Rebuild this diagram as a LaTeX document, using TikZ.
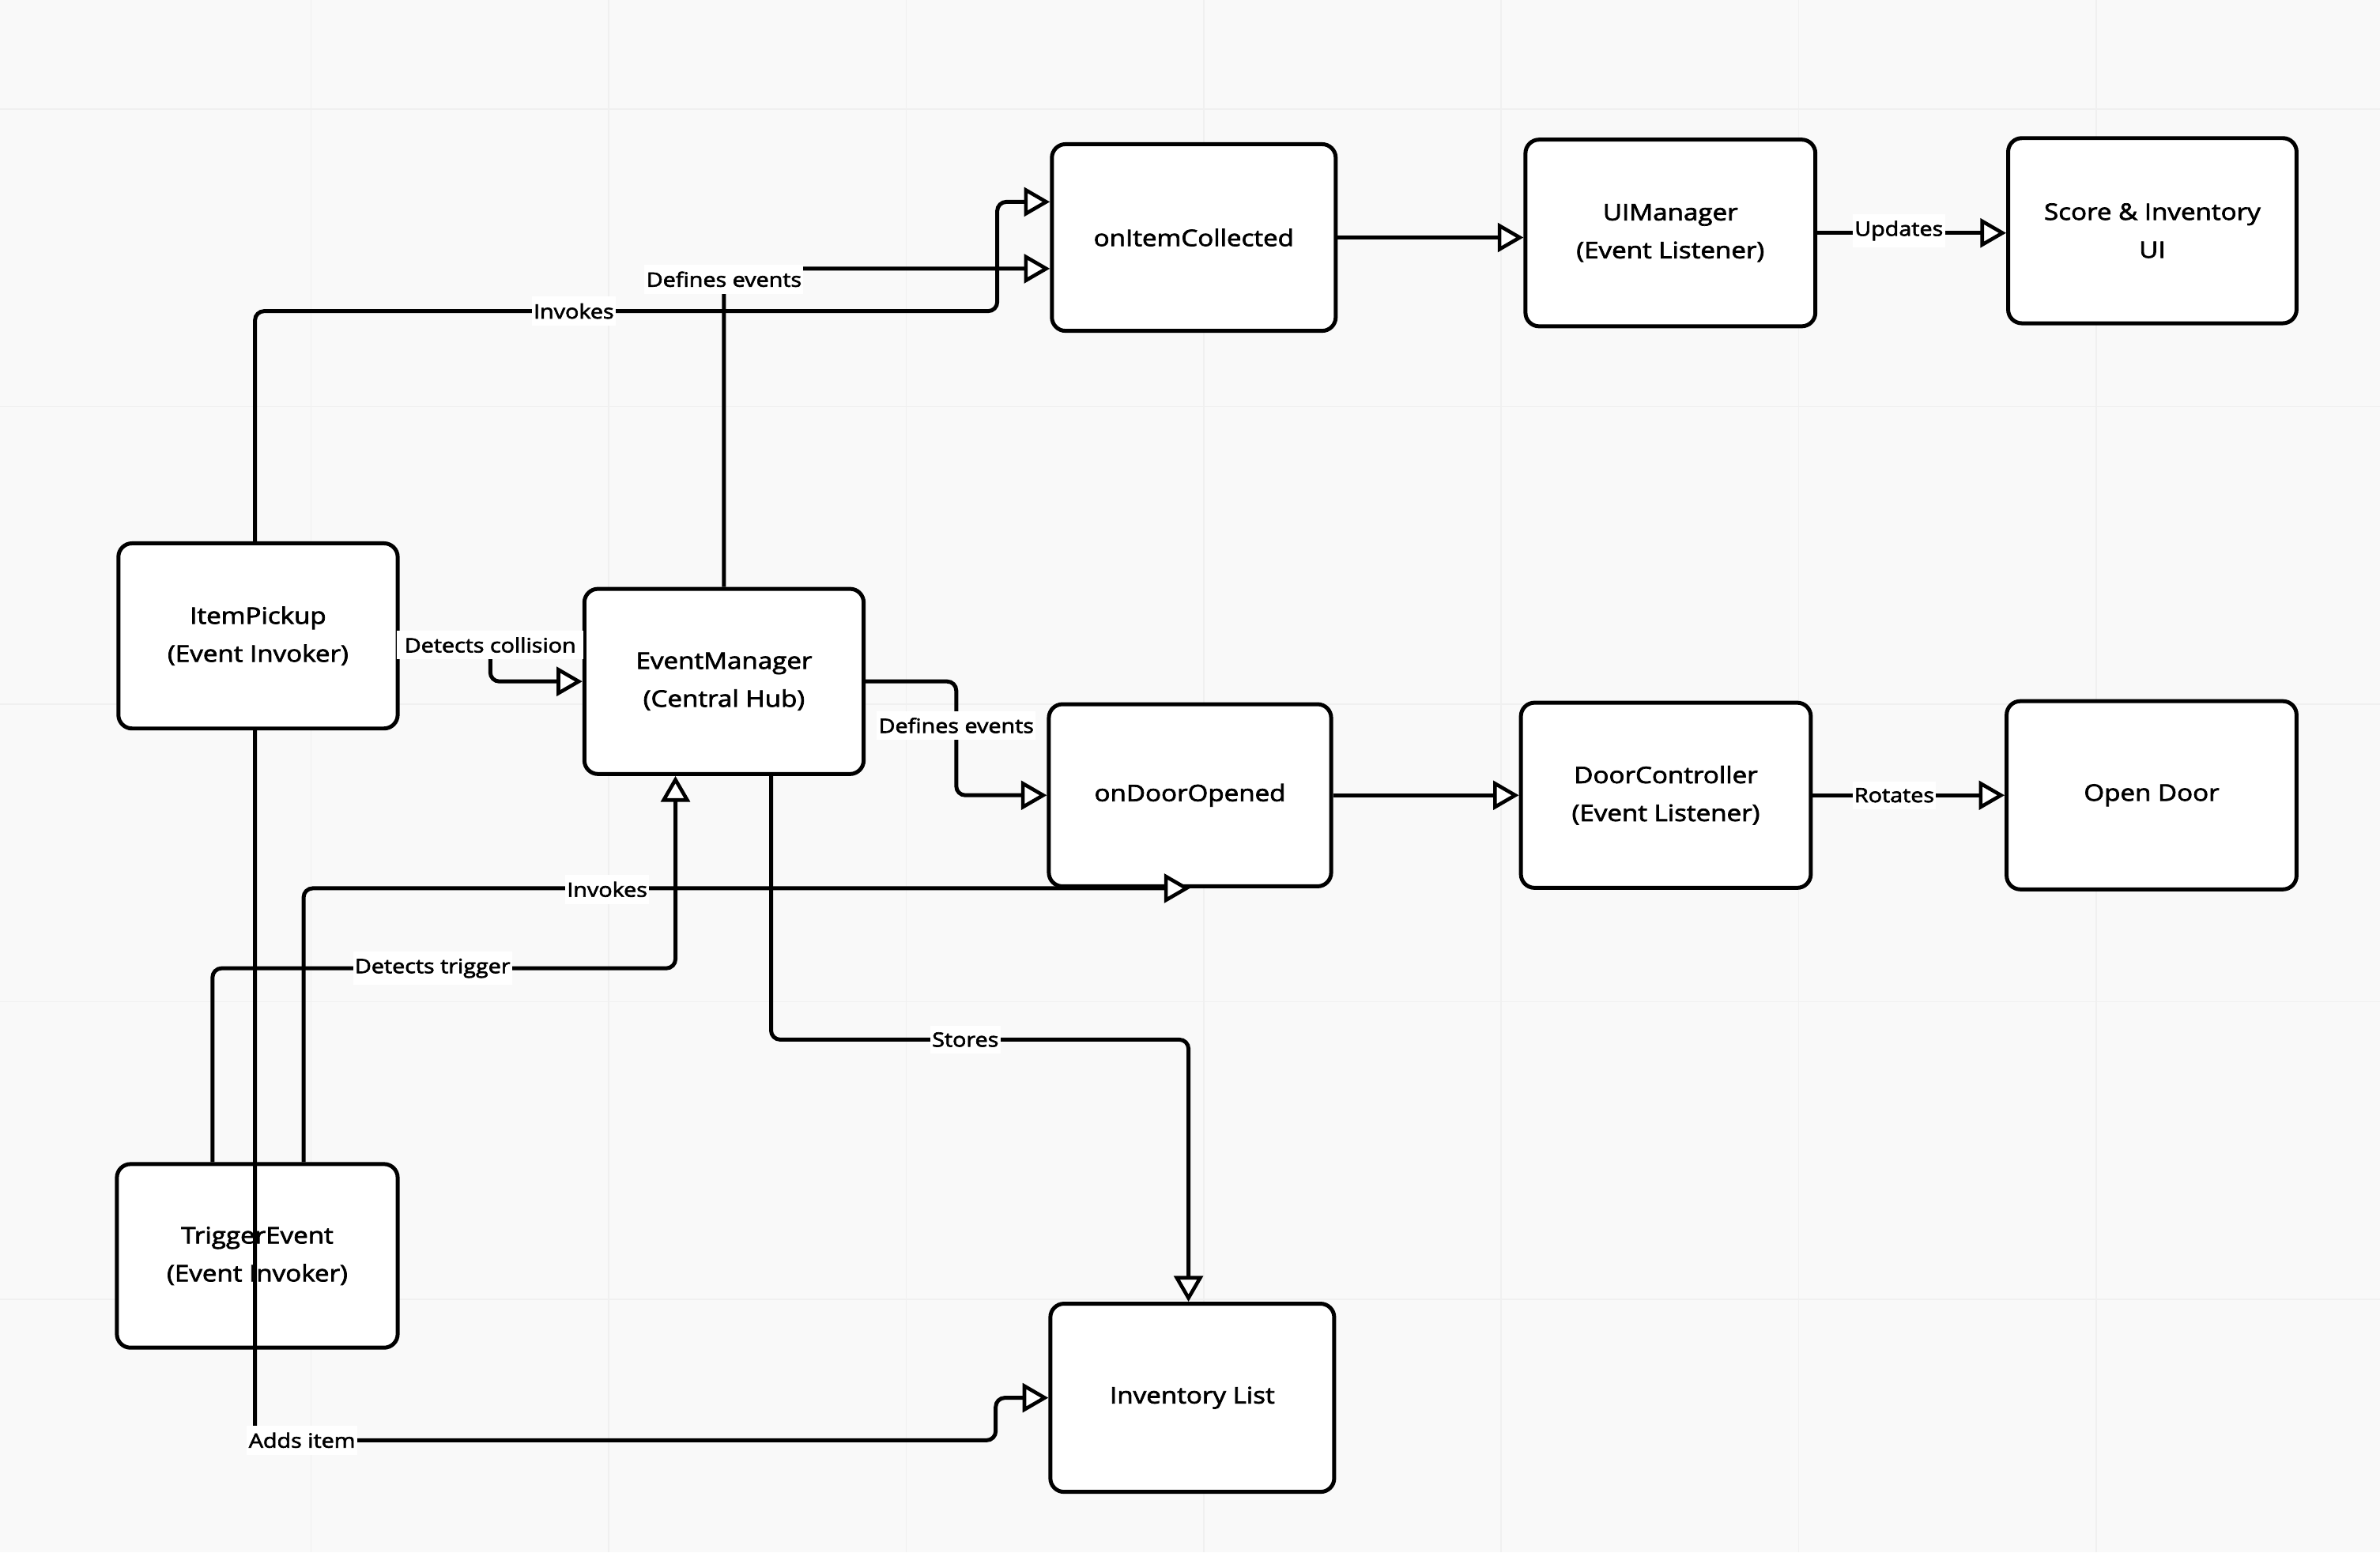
\documentclass[tikz,border=0pt]{standalone}
\usepackage{fontspec}
\setmainfont{Open Sans}[FakeStretch=1.15, FakeBold=2.5]
\usetikzlibrary{arrows.meta}
\begin{document}
\begin{tikzpicture}[x=1pt,y=-1pt,
  box/.style={draw=black, line width=2.6pt, rounded corners=9pt, fill=white,
    align=center, inner sep=0pt, font=\fontsize{15}{25}\selectfont},
  wire/.style={draw=black, line width=2.6pt, rounded corners=6pt,
    -{Triangle[length=17pt, width=19pt, fill=white, line width=2.4pt]}},
  lbl/.style={fill=white, inner xsep=1.2pt, inner ysep=4.5pt, font=\fontsize{13}{15}\selectfont},
  gridline/.style={draw=black!6, line width=0.8pt}]

% page and faint grid
\fill[black!2.5] (0,0) rectangle (1568,1023);
\useasboundingbox (0,0) rectangle (1568,1023);
\foreach \gy in {72,268,464,660,856} \draw[gridline] (0,\gy) -- (1568,\gy);
\foreach \gx in {205,401,597,793,989,1185,1381} \draw[gridline] (\gx,0) -- (\gx,1023);

% components
\node[box, minimum width=187pt, minimum height=123pt] (ic)  at (786.5,156.5) {onItemCollected};
\node[box, minimum width=191pt, minimum height=123pt] (uim) at (1100.5,153.5) {UIManager\\(Event Listener)};
\node[box, minimum width=190pt, minimum height=122pt] (sui) at (1418,152) {Score \& Inventory\\UI};
\node[box, minimum width=184pt, minimum height=122pt] (ip)  at (170,419) {ItemPickup\\(Event Invoker)};
\node[box, minimum width=184pt, minimum height=122pt] (em)  at (477,449) {EventManager\\(Central Hub)};
\node[box, minimum width=186pt, minimum height=120pt] (dop) at (784,524) {onDoorOpened};
\node[box, minimum width=191pt, minimum height=122pt] (dc)  at (1097.5,524) {DoorController\\(Event Listener)};
\node[box, minimum width=191pt, minimum height=124pt] (od)  at (1417.5,524) {Open Door};
\node[box, minimum width=185pt, minimum height=121pt] (te)  at (169.5,827.5) {TriggerEvent\\(Event Invoker)};
\node[box, minimum width=187pt, minimum height=124pt] (inv) at (785.5,921) {Inventory List};

% connectors
\draw[wire] ([xshift=-2pt]ip.north) |- (657,205) |- ([yshift=23.5pt]ic.west);
\draw[wire] (em.north) |- ([yshift=-20.5pt]ic.west);
\draw[wire] (ip.east) -| (323,449) -- (em.west);
\draw[wire] (em.east) -| (630,524) -- (dop.west);
\draw[wire] ([xshift=30.5pt]te.north) |- (dop.south);
\draw[wire] ([xshift=-29.5pt]te.north) |- (445,638) -- ([xshift=-32pt]em.south);
\draw[wire] ([xshift=31pt]em.south) |- (783,685) -- ([xshift=-2.5pt]inv.north);
\draw[wire] ([xshift=-2pt]ip.south) |- (656,949) |- (inv.west);
\draw[wire] (ic.east) -- (ic.east -| uim.west);
\draw[wire] (uim.east) -- (uim.east -| sui.west);
\draw[wire] (dop.east) -- (dc.west);
\draw[wire] (dc.east) -- (od.west);

% connector labels
\node[lbl] (l1)  at (378,205) {Invokes};
\node[lbl] (l2)  at (477,184) {Defines events};
\node[lbl, inner xsep=5pt] (l3)  at (323,425) {Detects collision};
\node[lbl] (l4)  at (630,478) {Defines events};
\node[lbl] (l5)  at (400,586) {Invokes};
\node[lbl] (l6)  at (285,638) {Detects trigger};
\node[lbl] (l7)  at (636,685) {Stores};
\node[lbl] (l8)  at (199,949) {Adds item};
\node[lbl] (l9)  at (1251,152) {Updates};
\node[lbl] (l10) at (1248,524) {Rotates};
\end{tikzpicture}
\end{document}
